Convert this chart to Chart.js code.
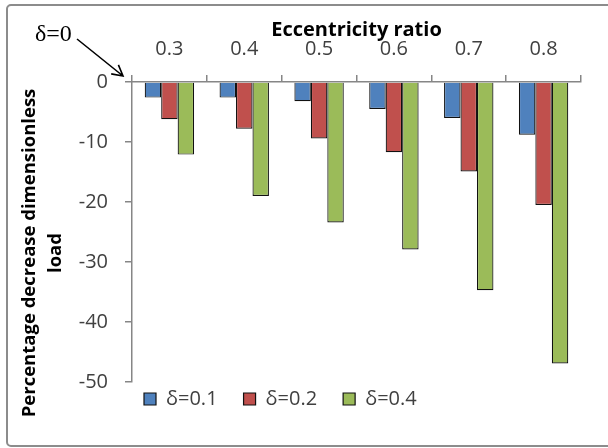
<!DOCTYPE html>
<html>
<head>
<meta charset="utf-8">
<script src="https://cdn.jsdelivr.net/npm/chart.js@4.4.0/dist/chart.umd.min.js"></script>
<style>
  html, body { margin: 0; padding: 0; background: #fff; }
</style>
</head>
<body>
<canvas id="myChart" width="608" height="448"></canvas>
<script>
// data
const ratios = ['0.3', '0.4', '0.5', '0.6', '0.7', '0.8'];
const delta01 = [-2.6, -2.6, -3.2, -4.5, -6.0, -8.8];
const delta02 = [-6.2, -7.8, -9.4, -11.7, -14.9, -20.5];
const delta04 = [-12.1, -19.0, -23.4, -27.9, -34.7, -46.9];
const yTicks = [0, -10, -20, -30, -40, -50];
const seriesNames = ['δ=0.1', 'δ=0.2', 'δ=0.4'];
const xTitle = 'Eccentricity ratio';
const yTitle = ['Percentage decrease dimensionless', 'load'];
const note = 'δ=0';

const axisGrey = '#868686';
const textGrey = '#404040';

// outer frame
const framePlugin = {
  id: 'frame',
  beforeDraw(chart) {
    const c = chart.ctx;
    c.save();
    c.fillStyle = '#fff';
    c.fillRect(0, 0, chart.width, chart.height);
    c.strokeStyle = '#8c8c8c';
    c.lineWidth = 2;
    c.beginPath();
    c.roundRect(7, 5, 620, 441, 4);
    c.stroke();
    c.restore();
  }
};

// y title and the delta=0 note with its arrow
const extrasPlugin = {
  id: 'extras',
  afterLayout(chart) {
    // legend sits a bit higher and starts under the plot, like the original
    const lg = chart.legend;
    lg.top -= 19;
    lg.bottom -= 19;
    lg.left += 58;
    lg.right += 58;
  },
  afterDraw(chart) {
    const c = chart.ctx;
    c.save();
    c.fillStyle = '#000';
    c.font = 'bold 18.5px "Open Sans"';
    c.textAlign = 'center';
    c.textBaseline = 'middle';
    c.translate(30, 253);
    c.rotate(-Math.PI / 2);
    c.fillText(yTitle[0], 0, 0);
    c.fillText(yTitle[1], 0, 26);
    c.restore();

    c.save();
    c.fillStyle = '#000';
    c.font = '24px "Liberation Serif"';
    c.textBaseline = 'alphabetic';
    c.fillText(note, 35, 41);
    const x0 = 77, y0 = 39, x1 = chart.chartArea.left - 9, y1 = chart.scales.y.getPixelForValue(0) - 6;
    c.strokeStyle = '#000';
    c.lineWidth = 1.6;
    c.beginPath();
    c.moveTo(x0, y0);
    c.lineTo(x1, y1);
    const a = Math.atan2(y1 - y0, x1 - x0);
    c.moveTo(x1 - 12 * Math.cos(a - 0.5), y1 - 12 * Math.sin(a - 0.5));
    c.lineTo(x1, y1);
    c.lineTo(x1 - 12 * Math.cos(a + 0.5), y1 - 12 * Math.sin(a + 0.5));
    c.stroke();
    c.restore();
  }
};

const ctx = document.getElementById('myChart');
new Chart(ctx, {
  type: 'bar',
  data: {
    labels: ratios,
    datasets: [
      { label: seriesNames[0], data: delta01, backgroundColor: '#4f81bd', borderColor: '#111', borderWidth: 1.2 },
      { label: seriesNames[1], data: delta02, backgroundColor: '#c0504d', borderColor: '#111', borderWidth: 1.2 },
      { label: seriesNames[2], data: delta04, backgroundColor: '#9bbb59', borderColor: '#111', borderWidth: 1.2 }
    ]
  },
  options: {
    responsive: false,
    animation: false,
    devicePixelRatio: 1,
    layout: { padding: { left: 60, right: 27, top: 0, bottom: 10 } },
    datasets: { bar: { categoryPercentage: 0.66, barPercentage: 1.0 } },
    plugins: {
      title: { display: false },
      tooltip: { enabled: false },
      legend: {
        position: 'bottom',
        align: 'start',
        labels: {
          boxWidth: 12,
          boxHeight: 12,
          padding: 26,
          color: textGrey,
          font: { family: 'Open Sans', size: 20 }
        }
      }
    },
    scales: {
      x: {
        position: 'top',
        afterFit(s) { s.height = 82; },
        grid: { display: true, drawOnChartArea: false, offset: true, tickLength: 7, color: axisGrey, lineWidth: 1.5 },
        border: { color: axisGrey, width: 1.5 },
        ticks: { color: textGrey, padding: 14, font: { family: 'Open Sans', size: 20 } },
        title: {
          display: true,
          text: xTitle,
          color: '#000',
          padding: { top: 18, bottom: 0 },
          font: { family: 'Open Sans', size: 20, weight: 'bold' }
        }
      },
      y: {
        min: -50,
        max: 0,
        afterFit(s) { s.width = 72; },
        afterBuildTicks(s) { s.ticks = yTicks.map(v => ({ value: v })); },
        grid: { display: true, drawOnChartArea: false, tickLength: 7, color: axisGrey, lineWidth: 1.5 },
        border: { color: axisGrey, width: 1.5 },
        ticks: { color: textGrey, padding: 17, font: { family: 'Open Sans', size: 20 } }
      }
    }
  },
  plugins: [framePlugin, extrasPlugin]
});
</script>
</body>
</html>
